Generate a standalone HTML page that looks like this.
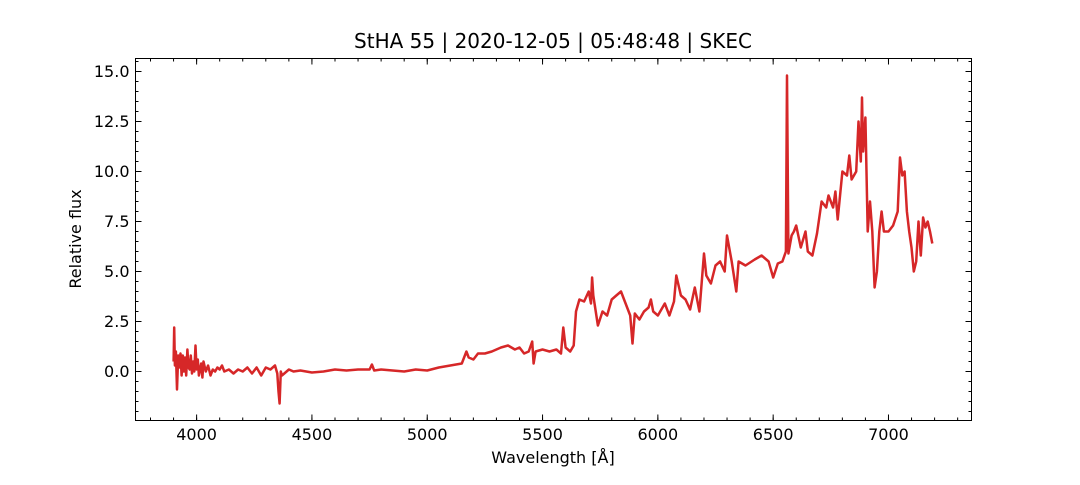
<!DOCTYPE html>
<html><head><meta charset="utf-8"><style>
body{margin:0;background:#fff}
svg text{font-family:"DejaVu Sans","Liberation Sans",sans-serif;fill:#000}
</style></head><body>
<svg width="1080" height="480" xmlns="http://www.w3.org/2000/svg">
<g id="ticks"></g>
<path id="line" fill="none" stroke="#d62728" stroke-width="2.5" stroke-linejoin="round"/>
<rect x="135.5" y="58.5" width="836" height="362" fill="none" stroke="#000" stroke-width="1"/>
<text x="553" y="48" font-size="20" text-anchor="middle">StHA 55 | 2020-12-05 | 05:48:48 | SKEC</text>
<text x="553" y="463" font-size="16" text-anchor="middle">Wavelength [Å]</text>
<text transform="translate(81,239) rotate(-90)" font-size="16" text-anchor="middle">Relative flux</text>
</svg>
<script>
const wavelengths=[3900,3903,3906,3910,3915,3920,3925,3930,3935,3940,3945,3950,3955,3960,3965,3970,3975,3980,3985,3990,3995,4000,4005,4010,4020,4025,4030,4040,4050,4060,4070,4080,4090,4100,4110,4120,4140,4160,4180,4200,4220,4240,4260,4280,4300,4320,4340,4350,4355,4360,4365,4370,4380,4400,4420,4450,4500,4550,4600,4650,4700,4750,4760,4770,4800,4850,4900,4950,5000,5050,5100,5150,5170,5180,5200,5220,5250,5280,5300,5320,5350,5380,5400,5420,5440,5455,5461,5470,5500,5530,5560,5580,5590,5600,5620,5635,5645,5660,5680,5700,5710,5715,5720,5740,5760,5780,5800,5820,5840,5860,5880,5890,5900,5920,5940,5960,5970,5980,6000,6030,6050,6070,6080,6100,6120,6140,6160,6180,6200,6210,6230,6250,6270,6290,6300,6320,6340,6350,6380,6420,6450,6480,6500,6520,6540,6555,6560,6566,6580,6590,6600,6620,6640,6650,6670,6690,6710,6730,6740,6760,6770,6780,6800,6820,6830,6840,6860,6870,6880,6885,6890,6900,6910,6920,6930,6940,6950,6960,6970,6980,7000,7020,7040,7050,7060,7070,7080,7090,7100,7110,7120,7130,7140,7150,7160,7170,7180,7190];
const fluxes=[0.5,2.2,0.3,1.0,-0.9,0.8,0.2,0.9,-0.2,0.8,0.0,0.7,-0.2,1.1,0.2,0.1,0.8,-0.1,0.5,0.0,1.3,0.1,0.6,-0.2,0.4,-0.3,0.5,0.0,0.3,-0.2,0.1,0.0,0.2,0.1,0.3,0.0,0.1,-0.1,0.1,0.0,0.2,-0.1,0.2,-0.2,0.2,0.1,0.3,-0.1,-1.0,-1.6,0.0,-0.2,-0.1,0.1,0.0,0.05,-0.05,0.0,0.1,0.05,0.1,0.1,0.35,0.05,0.1,0.05,0.0,0.1,0.05,0.2,0.3,0.4,1.0,0.7,0.6,0.9,0.9,1.0,1.1,1.2,1.3,1.1,1.2,0.9,1.0,1.5,0.4,1.0,1.1,1.0,1.1,0.9,2.2,1.2,1.0,1.3,3.0,3.6,3.5,4.0,3.4,4.7,3.8,2.3,3.0,2.8,3.6,3.8,4.0,3.4,2.8,1.4,2.9,2.6,3.0,3.2,3.6,3.0,2.8,3.4,2.8,3.5,4.8,3.8,3.6,3.1,4.2,3.0,5.9,4.8,4.4,5.3,5.5,5.0,6.8,5.5,4.0,5.5,5.3,5.6,5.8,5.5,4.7,5.4,5.5,6.0,14.8,5.9,6.8,7.0,7.3,6.2,7.0,6.0,5.8,6.9,8.5,8.2,8.8,8.2,9.0,7.6,10.0,9.8,10.8,9.6,10.0,12.5,10.5,13.7,11.0,12.7,7.0,8.5,7.0,4.2,5.0,7.0,8.0,7.0,7.0,7.3,8.0,10.7,9.8,10.0,8.0,7.0,6.2,5.0,5.5,7.5,5.8,7.7,7.2,7.5,7.0,6.4];
const xTicks=[4000,4500,5000,5500,6000,6500,7000];
const yTicks=[0,2.5,5,7.5,10,12.5,15];
const X0=135.5,X1=971.5,Y0=420.5,Y1=58.5;
const xMin=3735,xMax=7360,yMin=-2.45,yMax=15.65;
const xs=v=>X0+(v-xMin)/(xMax-xMin)*(X1-X0);
const ys=v=>Y0-(v-yMin)/(yMax-yMin)*(Y0-Y1);
const NS="http://www.w3.org/2000/svg";
let d="";wavelengths.forEach((w,i)=>{d+=(i?"L":"M")+xs(w).toFixed(1)+" "+ys(fluxes[i]).toFixed(1)});
document.getElementById('line').setAttribute('d',d);
const g=document.getElementById('ticks');
function ln(x1,y1,x2,y2){const l=document.createElementNS(NS,'line');l.setAttribute('x1',x1);l.setAttribute('y1',y1);l.setAttribute('x2',x2);l.setAttribute('y2',y2);l.setAttribute('stroke','#000');


g.appendChild(l);}
function tx(x,y,s,a){const t=document.createElementNS(NS,'text');t.setAttribute('x',x);t.setAttribute('y',y);t.setAttribute('font-size','16');t.setAttribute('text-anchor',a);t.textContent=s;


g.appendChild(t);}
for(let v=3800;v<=7300;v+=100){const x=xs(v);ln(x,Y0,x,Y0-3);ln(x,Y1,x,Y1+3);}
for(let v=-2;v<=15.5;v+=0.5){const y=ys(v);ln(X0,y,X0+3,y);ln(X1,y,X1-3,y);}
xTicks.forEach(v=>{const x=xs(v);ln(x,Y0,x,Y0-6);ln(x,Y1,x,Y1+6);tx(x,440,String(v),'middle');});
yTicks.forEach(v=>{const y=ys(v);ln(X0,y,X0+6,y);ln(X1,y,X1-6,y);tx(X0-6,y+5.5,v.toFixed(1),'end');});
</script>
</body></html>
